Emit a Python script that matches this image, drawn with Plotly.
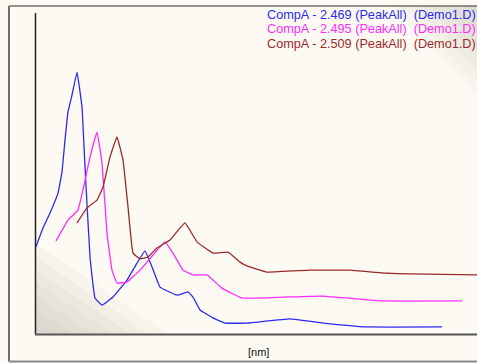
import plotly.graph_objects as go

# ---- data (wavelength nm, absorbance-like units) ----
blue_nm = [190.5, 194, 197.5, 201.5, 203.5, 205, 206.5, 208.5, 211, 213.5, 215, 217.5, 220, 223.5,
           229, 236, 241, 245, 248.5, 252.5, 261, 266.5, 269, 272.5, 279, 285, 296, 317.5, 334, 356, 393.5]
blue_val = [27.2, 33.0, 37.7, 43.9, 50.5, 60.4, 69.2, 74.4, 81.6, 70.7, 52.0, 24.0, 11.2, 9.0,
            11.5, 16.8, 22.1, 25.9, 20.9, 14.6, 12.1, 13.1, 11.5, 7.5, 5.0, 3.4, 3.4, 4.7, 3.4, 2.2, 2.2]

mag_nm = [200.5, 206.5, 211.5, 214, 217.5, 221, 223.5, 226, 228.5, 231, 236, 242.5, 249, 255, 259,
          264, 269, 276, 279, 283.5, 293.5, 314, 334, 364, 403.5]
mag_val = [29.0, 35.5, 38.6, 44.9, 55.1, 62.9, 53.3, 31.5, 19.9, 15.9, 16.2, 19.9, 24.6, 28.7, 25.2,
           19.9, 18.4, 18.4, 16.8, 14.3, 11.2, 11.5, 11.8, 10.3, 10.3]

brown_nm = [211, 216, 221, 224, 227.5, 231, 234, 236.5, 239, 242.5, 246.5, 251, 257.5, 265, 271,
            279, 286.5, 292.5, 296, 306, 327.5, 347.5, 364, 377.5, 411]
brown_val = [34.6, 39.3, 41.7, 45.8, 55.1, 61.4, 54.2, 39.6, 25.2, 23.4, 24.0, 26.8, 29.3, 34.6, 28.7,
             25.2, 25.5, 22.4, 21.2, 19.3, 19.9, 19.9, 19.0, 18.7, 18.4]

legend_labels = ["CompA - 2.469 (PeakAll)\u00a0\u00a0(Demo1.D)",
                 "CompA - 2.495 (PeakAll)\u00a0\u00a0(Demo1.D)",
                 "CompA - 2.509 (PeakAll)\u00a0\u00a0(Demo1.D)"]
colors = ["#2b2bf0", "#ff2bff", "#9a2a2a"]
x_label = "[nm]"

W, H = 477, 363
L, R, T, B = 35, 0, 13, 29
pw, ph = W - L - R, H - T - B


def px(x):
    return (x - L) / pw


def py(y):
    return (H - B - y) / ph


fig = go.Figure()
for xs, ys, c, name in [(blue_nm, blue_val, colors[0], legend_labels[0]),
                        (mag_nm, mag_val, colors[1], legend_labels[1]),
                        (brown_nm, brown_val, colors[2], legend_labels[2])]:
    fig.add_trace(go.Scatter(x=xs, y=ys, mode="lines", name=name,
                             line=dict(color=c, width=1.3, shape="spline", smoothing=0.25),
                             showlegend=False, hoverinfo="skip"))

shapes = []
# bottom-left gradient
for i in range(7):
    s = 1 - i / 7
    x2 = px(35 + 133 * s)
    y2 = py(334 - 91 * s)
    shapes.append(dict(type="path", xref="paper", yref="paper",
                       path=f"M 0 0 L 0 {y2} L {x2} 0 Z",
                       fillcolor="#a8a49a", opacity=0.07, line=dict(width=0), layer="below"))
# top-right gradient
for i in range(7):
    s = 1 - i / 7
    xa = px(477 - 87 * s)
    yb = py(6 + 89 * s)
    shapes.append(dict(type="path", xref="paper", yref="paper",
                       path=f"M 1 {py(6)} L {xa} {py(6)} L 1 {yb} Z",
                       fillcolor="#a8a49a", opacity=0.06, line=dict(width=0), layer="below"))
# outer frame
shapes.append(dict(type="line", xref="paper", yref="paper", x0=px(9), x1=px(9), y0=py(6), y1=py(361.5),
                   line=dict(color="#6e6e6e", width=2)))
shapes.append(dict(type="line", xref="paper", yref="paper", x0=px(9), x1=1.01, y0=py(6), y1=py(6),
                   line=dict(color="#6e6e6e", width=1.5)))
shapes.append(dict(type="line", xref="paper", yref="paper", x0=px(9), x1=1.01, y0=py(361.5), y1=py(361.5),
                   line=dict(color="#8a8a8a", width=2)))
# axes
shapes.append(dict(type="line", xref="paper", yref="paper", x0=px(35.5), x1=px(35.5), y0=py(13), y1=py(334),
                   line=dict(color="#222222", width=1.5)))
shapes.append(dict(type="line", xref="paper", yref="paper", x0=px(35), x1=1.01, y0=py(334.5), y1=py(334.5),
                   line=dict(color="#555555", width=2)))

annotations = []
for i, (lab, c) in enumerate(zip(legend_labels, colors)):
    annotations.append(dict(xref="paper", yref="paper", x=px(265), y=py(15 + 14.5 * i),
                            xanchor="left", yanchor="middle", text=lab, showarrow=False,
                            font=dict(family="Liberation Sans, Arial", size=12.7, color=c)))
annotations.append(dict(xref="paper", yref="paper", x=px(258), y=py(352), xanchor="center",
                        yanchor="middle", text=x_label, showarrow=False,
                        font=dict(family="Liberation Sans, Arial", size=11, color="#111111")))

fig.update_layout(
    width=W, height=H,
    margin=dict(l=L, r=R, t=T, b=B),
    paper_bgcolor="#fcfaf2", plot_bgcolor="#fcfaf2",
    xaxis=dict(range=[190, 411], showgrid=False, zeroline=False, showticklabels=False, ticks="",
               showline=False),
    yaxis=dict(range=[0, 100], showgrid=False, zeroline=False, showticklabels=False, ticks="",
               showline=False),
    shapes=shapes, annotations=annotations, showlegend=False, hovermode=False,
)

fig.write_html("out.html", config={"displayModeBar": False},
               post_script="document.body.style.margin='0px';document.body.style.overflow='hidden';")
